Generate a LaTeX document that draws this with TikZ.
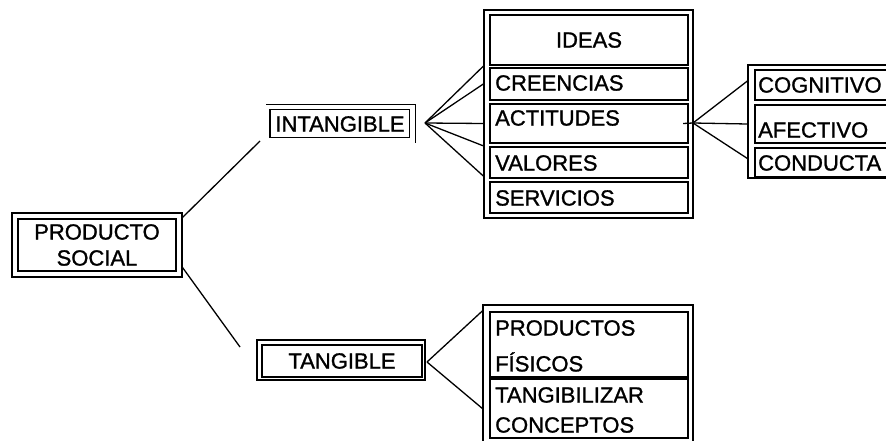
\documentclass[tikz,border=0pt]{standalone}
\usepackage{fontspec}
\setmainfont{Liberation Sans}[BoldFont={Liberation Sans}, BoldFeatures={FakeBold=1.2}]
\newcommand{\letra}{\fontsize{22}{26}\selectfont\bfseries}
\tikzset{
  marco/.style={draw, line width=1.2pt, inner sep=0pt},
  caja/.style={draw, line width=2.2pt, inner sep=0pt, font=\letra},
  texto/.style={anchor=west, inner sep=0pt, font=\letra},
  rama/.style={line width=1.3pt},
}

\begin{document}
\begin{tikzpicture}[x=1pt, y=-1pt]
\useasboundingbox (0,0) rectangle (886,441);
\node[marco, minimum width=170pt, minimum height=64pt] (ms) at (97,245) {};
\node[caja, minimum width=158pt, minimum height=52pt, align=center] (soc) at (97,245) {PRODUCTO\\SOCIAL};
\node[draw, line width=1pt, inner sep=0pt, font=\letra, minimum width=139pt, minimum height=28pt] (intang) at (340,124) {INTANGIBLE};
\draw[line width=2.5pt] (intang.north west) -- (intang.south west);
\draw[line width=1pt] ([xshift=-4pt, yshift=5pt]intang.north west) -- ([xshift=5pt, yshift=5pt]intang.north east) -- ([xshift=5pt, yshift=-5pt]intang.south east);
\node[marco, minimum width=168pt, minimum height=40pt] (mtg) at (341,360) {};
\node[caja, minimum width=160pt, minimum height=32pt] (tang) at (342,361) {TANGIBLE};

\node[marco, minimum width=209pt, minimum height=208pt] (mi) at (588.5,114) {};
\node[caja, minimum width=198pt, minimum height=50pt] (ideas) at (589,40) {IDEAS};
\node[caja, minimum width=198pt, minimum height=32pt] (creen) at (589,84) {};
\node[caja, minimum width=198pt, minimum height=39pt] (act) at (589,123.5) {};
\node[caja, minimum width=198pt, minimum height=31pt] (val) at (589,162.5) {};
\node[caja, minimum width=198pt, minimum height=31pt] (serv) at (589,197.5) {};
\node[texto] at (495,83) {CREENCIAS};
\node[texto] at (495,118) {ACTITUDES};
\node[texto] at (495,163) {VALORES};
\node[texto] at (495,198) {SERVICIOS};

\node[marco, minimum width=160pt, minimum height=113pt] (md) at (828,121.5) {};
\node[caja, minimum width=150pt, minimum height=30pt] (cog) at (830,85) {};
\node[caja, minimum width=150pt, minimum height=38pt] (afe) at (830,124) {};
\node[caja, minimum width=150pt, minimum height=29pt] (cond) at (830,162.5) {};
\node[texto] at (758,85) {COGNITIVO};
\node[texto] at (758,130) {AFECTIVO};
\node[texto] at (758,163) {CONDUCTA};

\node[marco, minimum width=210pt, minimum height=145pt] (mt) at (588,377.5) {};
\node[caja, minimum width=198pt, minimum height=65pt] (fis) at (589,344.5) {};
\node[caja, minimum width=198pt, minimum height=59pt] (conc) at (589,408.5) {};
\node[texto] at (495,328) {PRODUCTOS};
\node[texto] at (495,362) {FÍSICOS};
\node[texto] at (495,395) {TANGIBILIZAR};
\node[texto] at (495,425) {CONCEPTOS};

\coordinate (fin1) at (260,141);
\coordinate (fin2) at (240,347);
\coordinate (nudo1) at (425,123);
\coordinate (nudo2) at (693,123);
\coordinate (nudo3) at (427,362);
\draw[rama] ([yshift=-5pt]ms.north east) -- (fin1);
\draw[rama] ([yshift=10pt]ms.south east) -- (fin2);
\draw[rama] (nudo1) -- (mi.west |- ideas.south);
\draw[rama] (nudo1) -- (mi.west |- creen);
\draw[rama] (nudo1) -- (mi.west |- act);
\draw[rama] (nudo1) -- (mi.west |- val.north);
\draw[rama] (nudo1) -- ([yshift=3pt]mi.west |- val.south);
\draw[rama] ([xshift=-6pt]act.east) -- (nudo2);
\draw[rama] (nudo2) -- ([yshift=4pt]md.west |- cog);
\draw[rama] (nudo2) -- (md.west |- afe);
\draw[rama] (nudo2) -- ([yshift=4pt]md.west |- cond);
\draw[rama] (nudo3) -- (mt.west |- fis.north);
\draw[rama] (nudo3) -- (mt.west |- conc);
\end{tikzpicture}
\end{document}
